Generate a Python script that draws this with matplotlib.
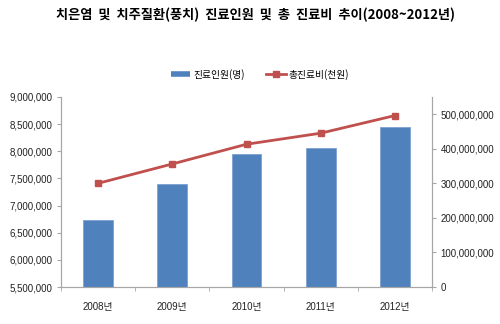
import numpy as np
import matplotlib
import matplotlib.pyplot as plt
from matplotlib.lines import Line2D
from matplotlib.ticker import FuncFormatter, FixedLocator

matplotlib.use('Agg')

plt.rcParams['font.family'] = ['Liberation Sans', 'Noto Sans CJK KR']

years = ['2008년', '2009년', '2010년', '2011년', '2012년']
patients = [6730000, 7390000, 7945000, 8055000, 8450000]      # 진료인원(명)
costs = [300000000, 356000000, 413000000, 445000000, 496000000]  # 총진료비(천원)

BAR_COLOR = '#4F81BD'
LINE_COLOR = '#C0504D'
SPINE_COLOR = '#A6A6A6'

fig = plt.figure(figsize=(5, 3.24), dpi=100)
ax = fig.add_axes([0.122, 0.114, 0.742, 0.587])
ax2 = ax.twinx()

x = np.arange(len(years))
ax.bar(x, patients, width=0.4, color=BAR_COLOR, edgecolor='#7FA2D0',
       linewidth=0.6, zorder=2)
line, = ax2.plot(x, costs, color=LINE_COLOR, linewidth=2, marker='s',
                 markersize=5, zorder=3)

ax.set_xlim(-0.5, len(years) - 0.5)
ax.set_ylim(5500000, 9000000)
ax.set_yticks(np.arange(5500000, 9000001, 500000))
ax2.set_ylim(0, 550000000)
ax2.set_yticks(np.arange(0, 500000001, 100000000))

comma = FuncFormatter(lambda v, p: f'{int(v):,}')
ax.yaxis.set_major_formatter(comma)
ax2.yaxis.set_major_formatter(comma)

# category labels at centres, tick marks on the boundaries
ax.set_xticks(x)
ax.set_xticklabels(years)
ax.xaxis.set_minor_locator(FixedLocator(np.arange(-0.5, len(years), 1.0)))
ax.tick_params(axis='x', which='major', length=0, pad=11, labelsize=7, colors='#222222')
ax.tick_params(axis='x', which='minor', length=3, color=SPINE_COLOR)
ax.tick_params(axis='y', length=3, color=SPINE_COLOR, labelsize=7, labelcolor='#222222', pad=3)
ax2.tick_params(axis='y', length=3, color=SPINE_COLOR, labelsize=7, labelcolor='#222222', pad=3)

for a in (ax, ax2):
    a.spines['top'].set_visible(False)
    for s in ('left', 'right', 'bottom'):
        a.spines[s].set_color(SPINE_COLOR)
        a.spines[s].set_linewidth(0.8)

fig.text(0.511, 0.953, '치은염  및  치주질환(풍치)  진료인원  및  총  진료비  추이(2008~2012년)',
         ha='center', va='center', fontsize=9.5, fontweight='bold',
         family=['Noto Sans CJK KR', 'DejaVu Sans'])

# legend: bar series shown as a thick blue stroke
bar_handle = Line2D([], [], color=BAR_COLOR, linewidth=4, solid_capstyle='butt')
fig.legend(handles=[bar_handle, line], labels=['진료인원(명)', '총진료비(천원)'],
           loc='center', bbox_to_anchor=(0.52, 0.77), ncol=2, frameon=False,
           handlelength=2.0, columnspacing=2.2, handletextpad=0.3,
           prop={'family': ['Noto Sans CJK KR'], 'size': 7})

fig.savefig('out.png', dpi=100)
